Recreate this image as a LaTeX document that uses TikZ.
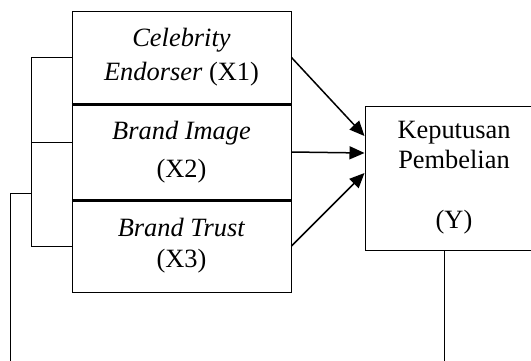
\documentclass[tikz,border=0pt]{standalone}
\usepackage{fontspec}
\setmainfont{Liberation Serif}
\usetikzlibrary{arrows.meta}
\usetikzlibrary{positioning}

\begin{document}
\begin{tikzpicture}[x=0.5pt,y=-0.5pt,->,>={Triangle[length=7.5pt,width=6.5pt]},
		line width=0.5pt,
		font=\fontsize{13.2}{15}\selectfont,
		var node/.style={rectangle,draw,inner sep=0pt,align=center,minimum width=109.5pt},
		dep node/.style={rectangle,draw,inner sep=0pt,align=center,minimum width=89pt,minimum height=72pt}]
		
		\useasboundingbox (0,0) rectangle (531,360);
		
		\node[var node, minimum height=46.5pt] (x1) at (181.5,57.5) {\textit{Celebrity}\\[2pt] \textit{Endorser} (X1)};
		\node[var node, minimum height=48pt] (x2) at (181.5,152) {\textit{Brand Image}\\[4pt] (X2)};
		\node[var node, minimum height=46pt] (x3) at (181.5,246) {\textit{Brand Trust}\\[0.5pt] (X3)};
		\node[dep node] (y) at (454,178) {Keputusan\\ Pembelian\\ \\ (Y)};
		
		% separators between the three boxes
		\draw[-,line width=1.1pt] (x1.south west) -- (x1.south east);
		\draw[-,line width=1.1pt] (x2.south west) -- (x2.south east);
		
		\path[line width=0.75pt]
		(x1.east) edge ([yshift=21pt]y.west)
		(x2.east) edge ([yshift=12.5pt]y.west)
		(x3.east) edge ([yshift=2.5pt]y.west);
		
		% bracket on the left
		\coordinate (br) at (31,142);
		\coordinate (lt) at (31,193);
		\coordinate (lb) at (10,362);
		\coordinate (yb) at (444,362);
		\draw[-] (x1.west) -- (x1.west -| br) -- (x3.west -| br) -- (x3.west);
		\draw[-] (br) -- (br -| x2.west);
		\draw[-] (lt) -| (lb);
		\draw[-] (yb |- y.south) -- (yb);
		\end{tikzpicture}
\end{document}
